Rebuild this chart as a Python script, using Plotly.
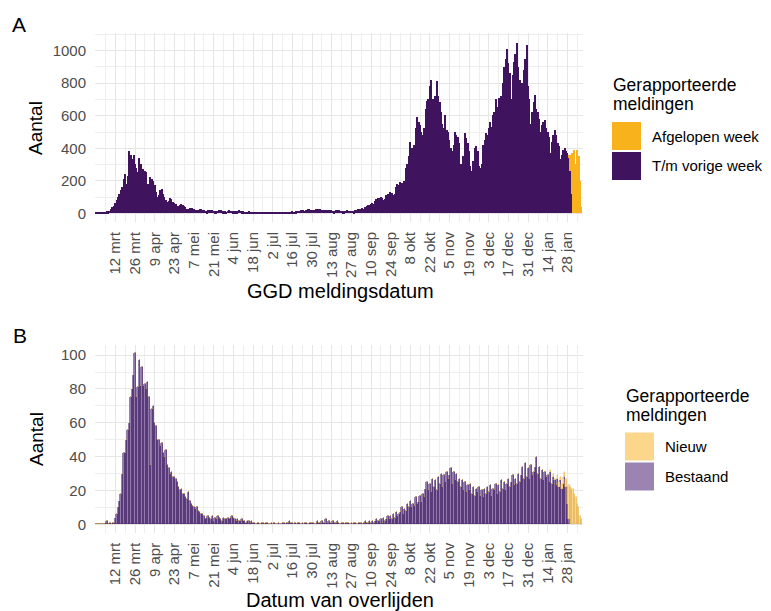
import pandas as pd
import plotly.graph_objects as go

# dagen vanaf do 27 feb 2020 t/m zo 7 feb 2021
dagen = pd.date_range("2020-02-27", "2021-02-07", freq="D")

# Paneel A: GGD meldingsdatum (rijen per week, do..wo)
vorige_week = [
    1, 2, 3, 3, 5, 4, 6,
    8, 10, 12, 15, 25, 35, 45,
    60, 80, 100, 120, 140, 160, 210,
    240, 180, 230, 380, 360, 330, 360,
    300, 280, 250, 340, 300, 260, 270,
    260, 250, 180, 160, 220, 210, 200,
    170, 130, 100, 110, 140, 150, 120,
    100, 80, 70, 75, 90, 85, 70,
    60, 55, 40, 45, 50, 55, 50,
    45, 35, 28, 25, 30, 32, 30,
    28, 22, 18, 20, 28, 25, 22,
    20, 15, 12, 18, 22, 20, 18,
    15, 12, 10, 15, 18, 16, 14,
    12, 10, 9, 14, 16, 15, 13,
    12, 10, 8, 10, 20, 15, 12,
    10, 8, 6, 8, 10, 9, 8,
    7, 5, 4, 6, 7, 6, 5,
    5, 4, 3, 4, 5, 5, 4,
    4, 3, 3, 4, 5, 5, 6,
    6, 5, 4, 6, 8, 8, 9,
    10, 9, 8, 12, 14, 15, 16,
    18, 17, 15, 20, 24, 25, 22,
    22, 20, 18, 24, 26, 25, 23,
    22, 20, 16, 20, 22, 20, 18,
    17, 15, 12, 16, 18, 16, 15,
    14, 12, 10, 14, 16, 15, 14,
    15, 14, 12, 18, 22, 24, 26,
    28, 30, 28, 38, 45, 48, 50,
    55, 60, 58, 75, 85, 90, 95,
    100, 95, 80, 85, 110, 120, 115,
    130, 125, 110, 115, 160, 180, 175,
    190, 185, 170, 200, 280, 300, 350,
    440, 400, 380, 420, 520, 590, 560,
    540, 500, 480, 520, 640, 690, 700,
    780, 820, 700, 680, 720, 810, 720,
    680, 620, 550, 520, 600, 510, 500,
    450, 400, 380, 420, 500, 480, 470,
    430, 300, 280, 350, 490, 460, 430,
    380, 290, 260, 320, 400, 410, 380,
    290, 280, 300, 420, 450, 490, 480,
    520, 560, 530, 600, 620, 700, 650,
    708, 700, 720, 800, 900, 950, 1006,
    920, 860, 700, 850, 930, 980, 1047,
    900, 820, 570, 800, 880, 950, 1036,
    780, 700, 550, 620, 680, 728, 640,
    620, 580, 500, 540, 560, 574, 520,
    500, 470, 370, 440, 480, 512, 480,
    430, 410, 330, 360, 390, 400, 380,
    370, 340, 260, 120, 0, 0, 0,
    0, 0, 0, 0,
]
afgelopen_week = [0] * 336 + [
    0, 20, 100, 250, 370, 390, 300,
    385, 350, 200, 40,
]

# Paneel B: datum van overlijden
bestaand = [
    0, 0, 0, 0, 0, 0, 0,
    1, 2, 0, 1, 0, 1, 1,
    4, 6, 10, 14, 18, 30, 42,
    42, 50, 56, 60, 75, 80, 88,
    101, 75, 81, 97, 82, 93, 82,
    83, 80, 84, 75, 35, 68, 70,
    60, 58, 50, 50, 46, 48, 42,
    40, 44, 35, 33, 30, 31, 28,
    28, 27, 25, 22, 20, 21, 18,
    18, 16, 15, 19, 14, 12, 11,
    10, 9, 10, 8, 7, 6, 6,
    5, 3, 4, 5, 4, 3, 5,
    2, 4, 3, 5, 4, 3, 2,
    4, 3, 3, 4, 3, 4, 5,
    4, 3, 2, 3, 2, 2, 3,
    2, 2, 1, 2, 2, 1, 2,
    1, 1, 0, 1, 1, 0, 1,
    1, 0, 1, 1, 0, 0, 1,
    0, 1, 0, 0, 1, 0, 0,
    1, 1, 0, 1, 1, 2, 1,
    1, 0, 1, 0, 1, 1, 0,
    1, 0, 1, 1, 0, 1, 1,
    1, 1, 0, 1, 2, 1, 1,
    2, 1, 1, 3, 1, 2, 1,
    1, 2, 1, 1, 2, 1, 0,
    1, 1, 0, 1, 1, 1, 0,
    1, 0, 1, 1, 0, 1, 1,
    1, 0, 1, 2, 1, 1, 2,
    1, 2, 1, 2, 3, 2, 2,
    3, 1, 4, 2, 3, 5, 3,
    5, 3, 6, 4, 7, 5, 6,
    7, 10, 6, 9, 8, 12, 10,
    14, 10, 12, 11, 16, 12, 13,
    17, 13, 18, 16, 21, 25, 20,
    24, 19, 27, 22, 26, 20, 28,
    24, 30, 22, 29, 25, 31, 27,
    29, 33, 24, 31, 26, 30, 25,
    27, 22, 26, 20, 25, 19, 23,
    20, 24, 18, 22, 17, 21, 19,
    22, 17, 20, 16, 21, 18, 22,
    19, 23, 17, 21, 20, 24, 18,
    23, 19, 26, 21, 25, 20, 24,
    27, 22, 25, 29, 23, 27, 24,
    30, 25, 29, 34, 27, 36, 28,
    33, 27, 35, 29, 31, 34, 40,
    30, 34, 27, 32, 26, 31, 28,
    29, 25, 31, 24, 28, 26, 23,
    27, 22, 26, 21, 24, 28, 22,
    12, 3, 0, 0, 0, 0, 0,
    0, 0, 0, 0,
]
nieuw = [0] * 322 + [
    0, 0, 1, 0, 2, 1, 0,
    2, 3, 2, 3, 4, 3, 5,
    10, 20, 22, 21, 21, 18, 16,
    12, 10, 5, 3,
]

# tick labels
maanden = ["jan", "feb", "mrt", "apr", "mei", "jun", "jul", "aug", "sep", "okt", "nov", "dec"]
tick_data = pd.date_range("2020-03-12", "2021-01-28", freq="14D")
tick_tekst = [f"{d.day} {maanden[d.month - 1]}" for d in tick_data]
minor_data = pd.date_range("2020-03-05", "2021-02-04", freq="14D")

# pagina heeft 8px marge rond de figuur
OFF = 8
W, H = 771 - OFF, 611 - OFF
def px(x):
    return (x - OFF) / W
def py(y):
    return 1 - (y - OFF) / H

FONT = "Liberation Sans, Arial, sans-serif"
PAARS = "#40135f"
ORANJE = "#f8b21b"
LICHTPAARS = "#9378ad"
LICHTORANJE = "#fcd68a"

fig = go.Figure()
fig.add_trace(go.Bar(x=dagen, y=vorige_week, marker=dict(color=PAARS, line=dict(width=0)),
                     name="T/m vorige week", xaxis="x", yaxis="y"))
fig.add_trace(go.Bar(x=dagen, y=afgelopen_week, marker=dict(color=ORANJE, line=dict(width=0)),
                     name="Afgelopen week", xaxis="x", yaxis="y"))
fig.add_trace(go.Bar(x=dagen, y=bestaand, marker=dict(color=LICHTPAARS, line=dict(width=0.6, color="#4f3070")),
                     name="Bestaand", xaxis="x2", yaxis="y2"))
fig.add_trace(go.Bar(x=dagen, y=nieuw, marker=dict(color=LICHTORANJE, line=dict(width=0.4, color="#e0b050")),
                     name="Nieuw", xaxis="x2", yaxis="y2"))

xas = dict(
    domain=[px(95), px(583)],
    range=["2020-02-26 10:00", "2021-02-08 00:00"],
    tickmode="array", tickvals=tick_data, ticktext=tick_tekst,
    tickangle=-90, ticks="", ticklabelstandoff=6,
    tickfont=dict(size=15, color="#4d4d4d", family=FONT),
    showgrid=True, gridcolor="#e6e6e6", gridwidth=1.3,
    minor=dict(tickmode="array", tickvals=minor_data, showgrid=True,
               gridcolor="#eeeeee", gridwidth=0.8),
    showline=False, zeroline=False, automargin=False,
)
yas = dict(
    ticks="", ticklabelstandoff=8,
    tickfont=dict(size=15, color="#4d4d4d", family=FONT),
    showgrid=True, gridcolor="#e6e6e6", gridwidth=1.3,
    showline=False, zeroline=False, automargin=False,
)

fig.update_layout(
    width=W, height=H,
    margin=dict(l=0, r=0, t=0, b=0),
    paper_bgcolor="white", plot_bgcolor="white",
    barmode="stack", bargap=0,
    showlegend=False,
    font=dict(family=FONT, color="black"),
    xaxis=dict(xas, anchor="y"),
    xaxis2=dict(xas, anchor="y2"),
    yaxis=dict(yas, domain=[py(222), py(33.3)], range=[-53, 1107],
               tickvals=[0, 200, 400, 600, 800, 1000],
               minor=dict(tickvals=[100, 300, 500, 700, 900, 1100], showgrid=True,
                          gridcolor="#eeeeee", gridwidth=0.8)),
    yaxis2=dict(yas, domain=[py(532.8), py(345)], range=[-5.05, 106],
                tickvals=[0, 20, 40, 60, 80, 100],
                minor=dict(tickvals=[10, 30, 50, 70, 90], showgrid=True,
                           gridcolor="#eeeeee", gridwidth=0.8)),
)

annotations = [
    dict(x=px(19), y=py(25), text="A", font=dict(size=21)),
    dict(x=px(20), y=py(335), text="B", font=dict(size=21)),
    dict(x=px(36), y=py(128), text="Aantal", textangle=-90, font=dict(size=19)),
    dict(x=px(36), y=py(439), text="Aantal", textangle=-90, font=dict(size=19)),
    dict(x=px(340), y=py(291), text="GGD meldingsdatum", font=dict(size=20)),
    dict(x=px(340), y=py(600), text="Datum van overlijden", font=dict(size=20)),
]

shapes = []
def legenda(x0, y0, titel_y, items):
    annotations.append(dict(x=px(x0), y=py(titel_y), text="Gerapporteerde", xanchor="left",
                            font=dict(size=17.5)))
    annotations.append(dict(x=px(x0), y=py(titel_y + 19), text="meldingen", xanchor="left",
                            font=dict(size=17.5)))
    for i, (label, kleur) in enumerate(items):
        top = y0 + i * 30
        shapes.append(dict(type="rect", xref="paper", yref="paper",
                           x0=px(x0 + 1), x1=px(x0 + 30), y0=py(top + 29), y1=py(top + 1),
                           fillcolor=kleur, line=dict(width=0)))
        annotations.append(dict(x=px(x0 + 39), y=py(top + 15), text=label, xanchor="left",
                                font=dict(size=15)))

legenda(611, 121, 85, [("Afgelopen week", ORANJE), ("T/m vorige week", PAARS)])
legenda(624, 431.5, 396, [("Nieuw", LICHTORANJE), ("Bestaand", "#9b84b2")])

for a in annotations:
    a.setdefault("xref", "paper")
    a.setdefault("yref", "paper")
    a.setdefault("showarrow", False)
    a.setdefault("xanchor", "center")
    a.setdefault("yanchor", "middle")
fig.update_layout(annotations=annotations, shapes=shapes)

fig.write_html("out.html")
